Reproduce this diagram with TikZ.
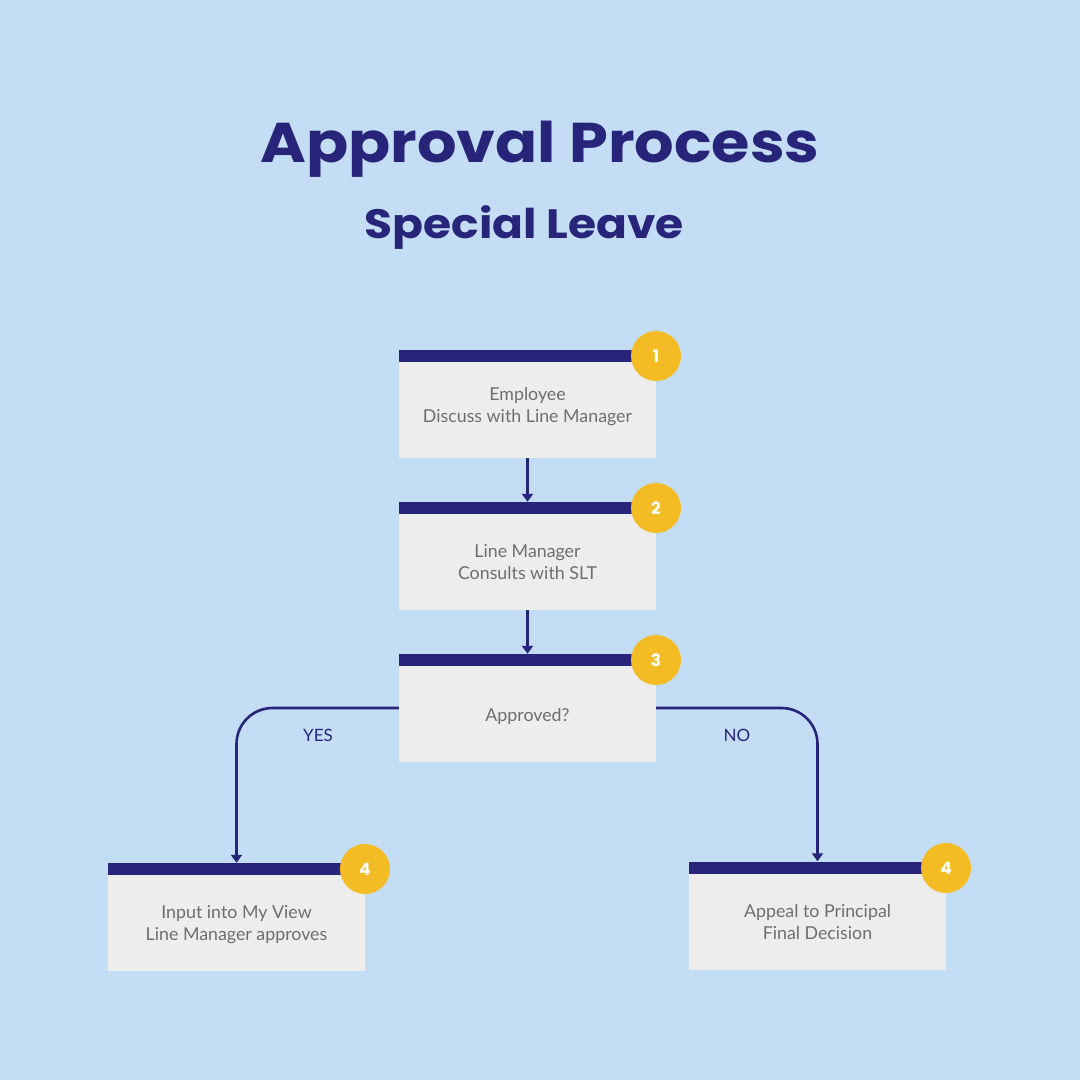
\documentclass[tikz,border=0pt]{standalone}
\usepackage{fontspec}
\setmainfont{Lato}
\newfontfamily\titlefont{Poppins}[UprightFont=* Bold, BoldFont=* Bold]
\usetikzlibrary{arrows.meta,calc}
\definecolor{bgc}{HTML}{C3DDF5}
\definecolor{navy}{HTML}{27247A}
\definecolor{boxgray}{HTML}{EDEDED}
\definecolor{txtgray}{HTML}{6E6E6E}
\definecolor{gold}{HTML}{F4BC24}
\begin{document}
\begin{tikzpicture}[x=1pt,y=1pt,
  stepbox/.style={rectangle, fill=boxgray, minimum width=257pt, minimum height=108pt, inner sep=0pt,
    path picture={\fill[navy] (path picture bounding box.north west) rectangle ([yshift=-12pt]path picture bounding box.north east);}},
  boxtext/.style={align=center, text=txtgray, inner sep=0pt, font=\fontsize{17.8}{22}\selectfont},
  badge/.style={circle, fill=gold, minimum size=50pt, inner sep=0pt, text=white, font=\titlefont\fontsize{17}{17}\selectfont},
  conn/.style={navy, line width=2.6pt, -{Triangle[width=11pt,length=8pt]}},
  lbl/.style={text=navy, font=\fontsize{17}{17}\selectfont}]
\fill[bgc] (0,0) rectangle (1080,-1080);
\useasboundingbox (0,0) rectangle (1080,-1080);
\node[anchor=base, text=navy, xscale=1.11, font=\titlefont\fontsize{56}{60}\selectfont] (title) at (540,-162) {Approval Process};
\node[anchor=base, text=navy, xscale=1.11, font=\titlefont\fontsize{41}{44}\selectfont] (subtitle) at (524.5,-238) {Special Leave};

\node[stepbox] (b1) at (527.5,-404) {};
\node[stepbox] (b2) at (527.5,-556) {};
\node[stepbox] (b3) at (527.5,-708) {};
\node[stepbox] (b4l) at (236.5,-917) {};
\node[stepbox] (b4r) at (817.5,-915.5) {};

\node[boxtext] (t1) at ($(b1.center)+(0,-3)$) {Employee\\Discuss with Line Manager};
\node[boxtext] (t2) at ($(b2.center)+(0,-6)$) {Line Manager\\Consults with SLT};
\node[boxtext] (t3) at ($(b3.center)+(0,-8)$) {Approved?};
\node[boxtext] (t4l) at ($(b4l.center)+(0,-8)$) {Input into My View\\Line Manager approves};
\node[boxtext] (t4r) at ($(b4r.center)+(0,-7)$) {Appeal to Principal\\Final Decision};

\node[badge] (c1) at (656,-356) {1};
\node[badge] (c2) at (656,-508) {2};
\node[badge] (c3) at (656,-660) {3};
\node[badge] (c4l) at (365,-869) {4};
\node[badge] (c4r) at (946,-868) {4};

\draw[conn] (b1.south) -- (b2.north);
\draw[conn] (b2.south) -- (b3.north);
\draw[conn, rounded corners=36pt] (b3.west) -| (b4l.north);
\draw[conn, rounded corners=36pt] (b3.east) -| (b4r.north);
\node[lbl] (yes) at (318,-735) {YES};
\node[lbl] (no) at (737,-735) {NO};
\end{tikzpicture}
\end{document}
